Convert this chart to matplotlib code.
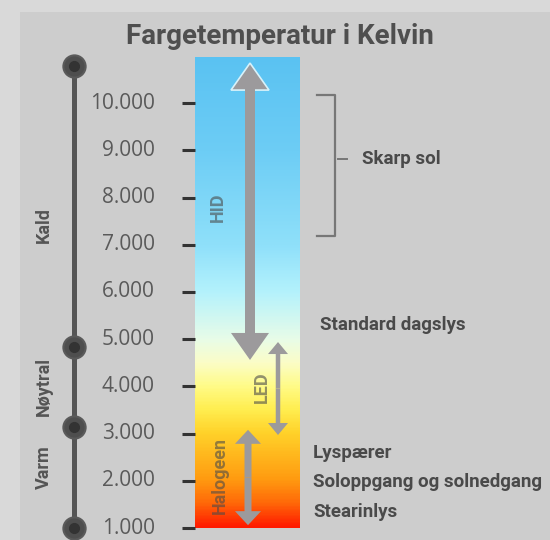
import numpy as np
import matplotlib
matplotlib.use('Agg')
import matplotlib.pyplot as plt
from matplotlib import font_manager
from matplotlib.colors import LinearSegmentedColormap
from matplotlib.patches import Rectangle, FancyArrow

# --- data -----------------------------------------------------------------
title = 'Fargetemperatur i Kelvin'
tick_values = [1000, 2000, 3000, 4000, 5000, 6000, 7000, 8000, 9000, 10000]
tick_labels = ['1.000', '2.000', '3.000', '4.000', '5.000',
               '6.000', '7.000', '8.000', '9.000', '10.000']

# gradient stops (kelvin -> colour)
grad_k = [1000, 1500, 2000, 3000, 3500, 4000, 4500, 5000, 6000, 7000, 9000, 11000]
grad_c = ['#ff1a00', '#ff6808', '#ff9a10', '#ffd22a', '#ffee50', '#fffb88',
          '#fbfdc8', '#e8fce8', '#b4f2fc', '#8fe0fa', '#6dcdf5', '#5ac2f2']

# left scale: markers and zone names
scale_marks = [1000, 3140, 4835, 10790]
zone_names = ['Varm', 'Nøytral', 'Kald']
zone_k = [2290, 3990, 7420]

# lamp types: (low, high) range in kelvin
lamp_names = ['HID', 'LED', 'Halogeen']
lamp_low = [4560, 2970, 1060]
lamp_high = [10850, 4940, 3080]
lamp_label_k = [7800, 3990, 2120]

# light sources on the right
bracket_low, bracket_high = 7190, 10170
sources = ['Skarp sol', 'Standard dagslys', 'Lyspærer',
           'Soloppgang og solnedgang', 'Stearinlys']
source_k = [8820, 5300, 2590, 1975, 1340]

# --- fonts ----------------------------------------------------------------
installed = {f.name for f in font_manager.fontManager.ttflist}


def pick(*names):
    return [n for n in names if n in installed] + ['DejaVu Sans']


narrow = pick('Liberation Sans Narrow', 'Roboto', 'Open Sans')
plain = pick('Open Sans', 'Lato')

# --- figure ---------------------------------------------------------------
# x in pixels, y in kelvin (47.2 px per 1000 K, 1000 K at pixel row 528)
px_per_k = 47.2 / 1000


def k_at(row):
    return 1000 + (528 - row) / px_per_k


fig = plt.figure(figsize=(5.5, 5.4), dpi=100, facecolor='#d9d9d9')
ax = fig.add_axes([0, 0, 1, 1])
ax.set_xlim(0, 550)
ax.set_ylim(k_at(540), k_at(0))
ax.axis('off')

ax.add_patch(Rectangle((20, k_at(540)), 540, k_at(12) - k_at(540),
                       facecolor='#cdcdcd', edgecolor='none', zorder=0))

ax.text(280, k_at(37), title, ha='center', va='center', fontsize=20,
        fontweight='bold', color='#4f4f4f', family=narrow)

# gradient bar
cmap = LinearSegmentedColormap.from_list(
    'kelvin', [((k - grad_k[0]) / (grad_k[-1] - grad_k[0]), c)
               for k, c in zip(grad_k, grad_c)])
bar_top = k_at(57)
vals = np.linspace(1000, bar_top, 400)[:, None]
ax.imshow((vals - grad_k[0]) / (grad_k[-1] - grad_k[0]), cmap=cmap,
          vmin=0, vmax=1, extent=[195, 300, 1000, bar_top], origin='lower',
          aspect='auto', zorder=1, interpolation='bilinear')

# ticks
for v, lab in zip(tick_values, tick_labels):
    ax.plot([182, 195], [v, v], color='#333333', lw=2.2, solid_capstyle='butt', zorder=2)
    ax.text(155, v, lab, ha='right', va='center', fontsize=15,
            color='#5a5a5a', family=plain)

# left scale
ax.plot([74, 74], [k_at(545), scale_marks[-1]], color='#555555', lw=3.6, zorder=2)
ax.plot([74] * len(scale_marks), scale_marks, 'o', ms=16, color='#4e4e4e',
        mec='#5a5a5a', mew=1.5, zorder=3)
ax.plot([74] * len(scale_marks), scale_marks, 'o', ms=7, color='#333333', zorder=4)
for name, k in zip(zone_names, zone_k):
    ax.text(44, k, name, rotation=90, ha='center', va='center', fontsize=13,
            fontweight='bold', color='#555555', family=narrow)

# lamp arrows
arrow_c = '#9c9a9c'
arrow_x = [250, 278, 248]
shaft_w = [8, 4.5, 7]
head_w = [38, 20, 26]
head_l = [27, 12, 14]
label_x = [218, 262, 220]
for i, name in enumerate(lamp_names):
    lo, hi = lamp_low[i], lamp_high[i]
    mid = (lo + hi) / 2
    hl = head_l[i] / px_per_k
    for end, ec in ((hi, '#d8f2fa' if i == 0 else 'none'), (lo, 'none')):
        ax.add_patch(FancyArrow(arrow_x[i], mid, 0, end - mid, width=shaft_w[i],
                                head_width=head_w[i], head_length=hl,
                                length_includes_head=True, facecolor=arrow_c,
                                edgecolor=ec, lw=1.2, zorder=3))
    if i == 0:
        # hide the light outline along the shaft, keep it on the head only
        ax.add_patch(Rectangle((arrow_x[i] - shaft_w[i] / 2 - 1, lo + hl - 20),
                               shaft_w[i] + 2, hi - lo - 2 * hl + 60,
                               facecolor=arrow_c, edgecolor='none', zorder=3.5))
    ax.text(label_x[i], lamp_label_k[i], name, rotation=90, ha='center',
            va='center', fontsize=13, fontweight='bold', color='#4a4a4a',
            alpha=0.6, family=narrow, zorder=4)

# bracket for sharp sun
ax.plot([317, 335, 335, 317], [bracket_high, bracket_high, bracket_low, bracket_low],
        color='#777777', lw=1.6)
ax.plot([338, 347], [source_k[0], source_k[0]], color='#777777', lw=1.4)

source_x = [362, 320, 313, 313, 313]
for name, k, x in zip(sources, source_k, source_x):
    ax.text(x, k, name, ha='left', va='center', fontsize=13.5, fontweight='bold',
            color='#4a4a4a', family=narrow)

fig.savefig('out.png', dpi=100, facecolor=fig.get_facecolor())
